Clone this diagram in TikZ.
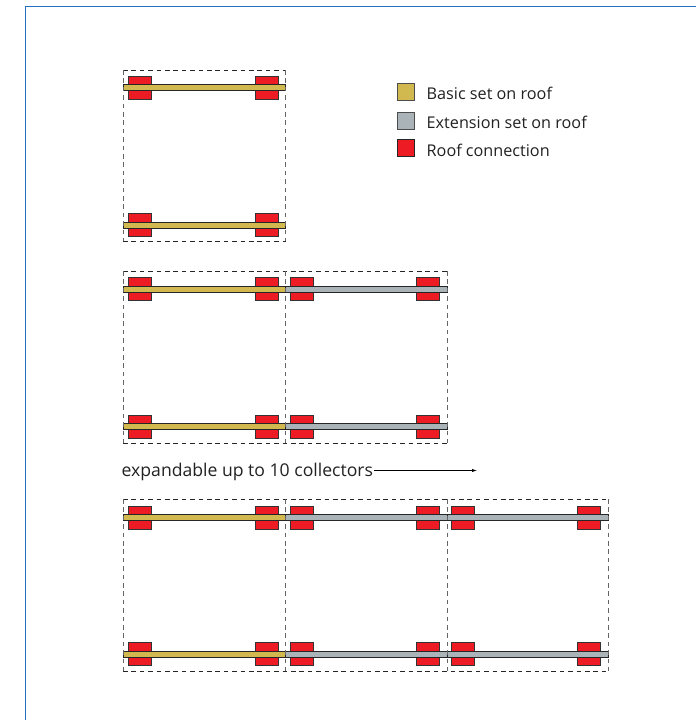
\documentclass[tikz,border=0pt]{standalone}
\usepackage{fontspec}
\usetikzlibrary{arrows.meta}
\setmainfont{Open Sans}
\definecolor{basicc}{HTML}{D1B94F}
\definecolor{extc}{HTML}{A9B3B8}
\definecolor{redc}{HTML}{ED1C24}
\definecolor{framec}{HTML}{1F6FC4}
\definecolor{txt}{HTML}{222222}
\tikzset{
  redbox/.style={draw=black!80,line width=0.9pt,fill=redc},
  basicbar/.style={draw=black!85,line width=0.9pt,fill=basicc},
  extbar/.style={draw=black!85,line width=0.9pt,fill=extc},
  hdash/.style={draw=black!85,line width=0.7pt,dash pattern=on 4.5pt off 3.9pt},
  vdash/.style={draw=black!60,line width=1pt,dash pattern=on 4.5pt off 3.9pt},
  lab/.style={anchor=base west,inner sep=0pt,font=\fontsize{16.2pt}{18pt}\selectfont,text=txt},
  explab/.style={lab,font=\fontsize{17.6pt}{20pt}\selectfont},
  legbox/.style={line width=0.9pt,draw=black!70},
}
% #1 left x, #2 right x, #3 bar top y, #4 bar style
\newcommand{\rail}[4]{%
  \path[redbox] (#1+4.5,#3-8.2) rectangle (#1+27.5,#3+14.8);
  \path[redbox] (#2-30.5,#3-8.2) rectangle (#2-7.5,#3+14.8);
  \path[#4] (#1,#3) rectangle (#2,#3+6.3);
}
\begin{document}
\begin{tikzpicture}[x=1pt,y=-1pt]
\useasboundingbox (0,0) rectangle (696,720);
\fill[white] (0,0) rectangle (696,720);
\draw[framec,line width=1pt] (25.5,720) -- (25.5,6) -- (696,6);
% first group
\rail{123.5}{285.5}{84.2}{basicbar}
\rail{123.5}{285.5}{222}{basicbar}
\draw[hdash] (123,70) -- (285.5,70) (123,241) -- (285.5,241);
\draw[vdash] (123,70) -- (123,241) (285.5,70) -- (285.5,241);
% second group
\rail{123.5}{285.5}{286}{basicbar}
\rail{123.5}{285.5}{423.5}{basicbar}
\rail{285.5}{447}{286}{extbar}
\rail{285.5}{447}{423.5}{extbar}
\draw[hdash] (123,271) -- (447,271) (123,443) -- (447,443);
\draw[vdash] (123,271) -- (123,443) (285.5,271) -- (285.5,443) (447,271) -- (447,443);
% third group
\rail{123.5}{285.5}{514.5}{basicbar}
\rail{123.5}{285.5}{651}{basicbar}
\rail{285.5}{447}{514.5}{extbar}
\rail{285.5}{447}{651}{extbar}
\rail{447}{608}{514.5}{extbar}
\rail{447}{608}{651}{extbar}
\draw[hdash] (123,499) -- (608,499) (123,671) -- (608,671);
\draw[vdash] (123,499) -- (123,671) (285.5,499) -- (285.5,671) (447,499) -- (447,671) (608,499) -- (608,671);
% legend
\node[legbox,fill=basicc,minimum size=17pt,inner sep=0pt] (lega) at (405.5,92) {};
\node[legbox,fill=extc,minimum size=17pt,inner sep=0pt] (legb) at (405.5,121) {};
\node[legbox,fill=redc,draw=black!85,minimum size=17pt,inner sep=0pt] (legc) at (405.5,148) {};
\node[lab] (ta) at (426.5,99) {Basic set on roof};
\node[lab] (tb) at (426.5,128) {Extension set on roof};
\node[lab] (tc) at (426.5,156) {Roof connection};
% expandable
\node[explab] (exp) at (121.5,476) {expandable up to 10 collectors};
\coordinate (arrowend) at (477,470.5);
\draw[black,line width=0.7pt,-{Latex[length=5pt,width=3.2pt]}] (exp.east |- arrowend) ++(1,0) -- (arrowend);
\end{tikzpicture}
\end{document}
